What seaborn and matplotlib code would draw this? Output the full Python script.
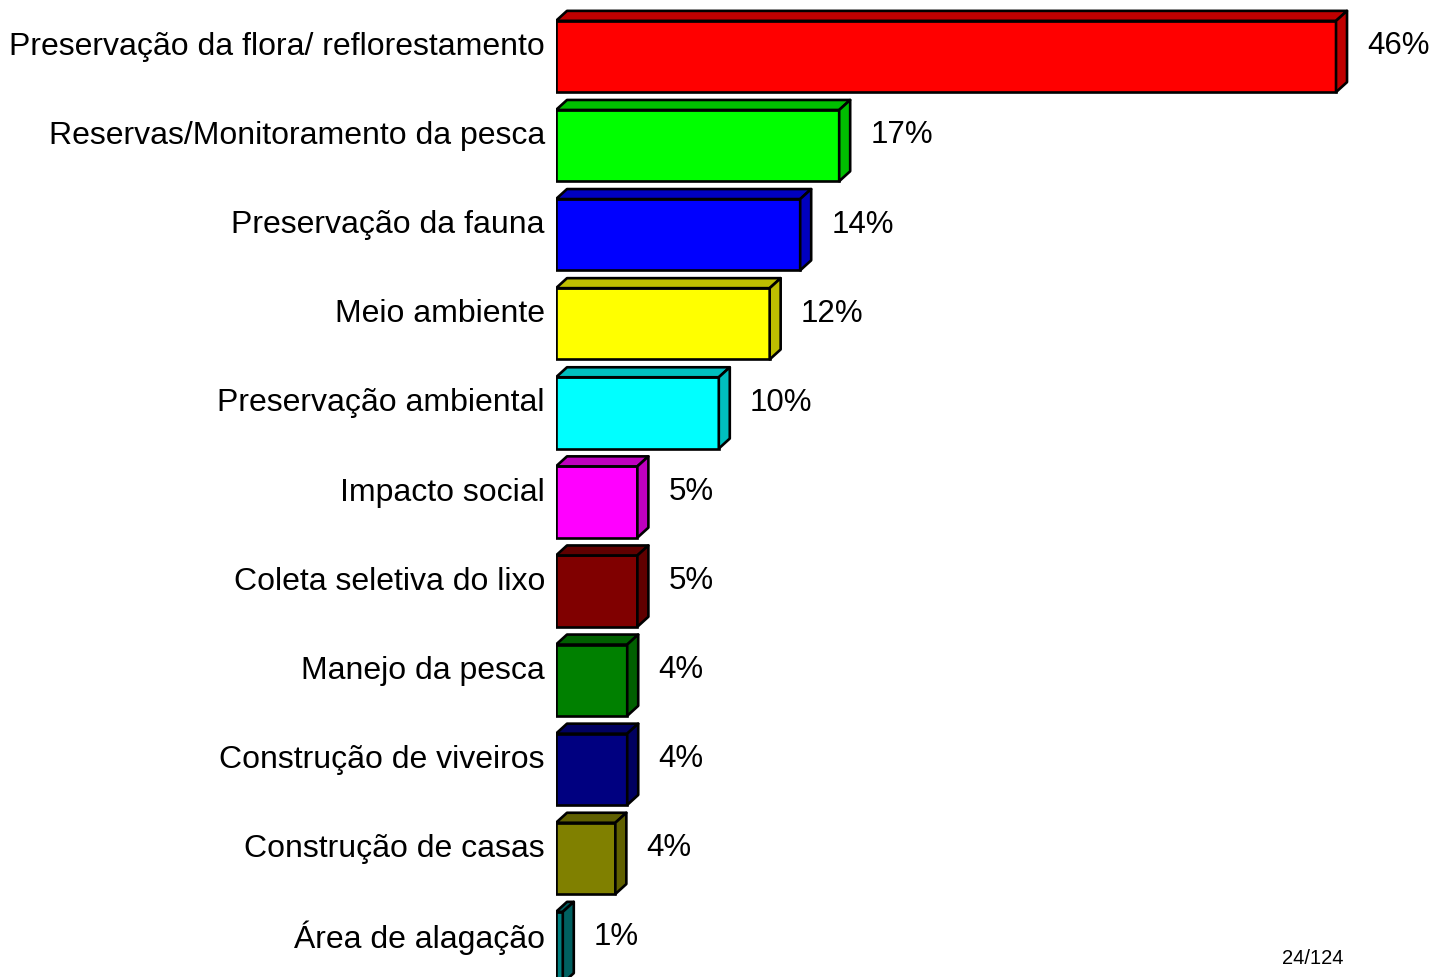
import numpy as np
import pandas as pd
import matplotlib
matplotlib.use("Agg")
import matplotlib.pyplot as plt
import seaborn as sns
from matplotlib.patches import Polygon
from matplotlib.colors import to_rgb

categories = [
    "Preservação da flora/ reflorestamento",
    "Reservas/Monitoramento da pesca",
    "Preservação da fauna",
    "Meio ambiente",
    "Preservação ambiental",
    "Impacto social",
    "Coleta seletiva do lixo",
    "Manejo da pesca",
    "Construção de viveiros",
    "Construção de casas",
    "Área de alagação",
]
values = [46.0, 16.7, 14.4, 12.6, 9.6, 4.8, 4.8, 4.2, 4.2, 3.5, 0.4]
value_labels = ["46%", "17%", "14%", "12%", "10%", "5%", "5%", "4%", "4%", "4%", "1%"]
colors = ["#FF0000", "#00FF00", "#0000FF", "#FFFF00", "#00FFFF", "#FF00FF",
          "#800000", "#008000", "#000080", "#808000", "#008080"]

sns.set_theme(style="white")
plt.rcParams["font.family"] = ["Liberation Sans", "DejaVu Sans"]

W, H, DPI = 1445, 977, 100
fig = plt.figure(figsize=(W / DPI, H / DPI), dpi=DPI)
left_px = 556
ax = fig.add_axes([left_px / W, 0, 1 - left_px / W, 1])

df = pd.DataFrame({"cat": categories, "val": values})
lw = 1.9
sns.barplot(data=df, x="val", y="cat", hue="cat", palette=colors, legend=False,
            orient="h", width=0.8, edgecolor="black", linewidth=lw, ax=ax,
            saturation=1)

px_per_unit = 16.957
pitch = 89.1
ax.set_xlim(0, (W - left_px) / px_per_unit)
ax.set_ylim((H - 56.5) / pitch, -56.5 / pitch)

dx = 11 / px_per_unit
dy = 10 / pitch

for p, c in zip(ax.patches, colors):
    x0 = p.get_x()
    x1 = x0 + p.get_width()
    yt = p.get_y()
    yb = yt + p.get_height()
    dark = tuple(v * 0.75 for v in to_rgb(c))
    top = Polygon([(x0, yt), (x0 + dx, yt - dy), (x1 + dx, yt - dy), (x1, yt)],
                  closed=True, facecolor=dark, edgecolor="black", linewidth=lw,
                  joinstyle="round")
    side = Polygon([(x1, yt), (x1 + dx, yt - dy), (x1 + dx, yb - dy), (x1, yb)],
                   closed=True, facecolor=dark, edgecolor="black", linewidth=lw,
                   joinstyle="round")
    ax.add_patch(top)
    ax.add_patch(side)

shift = 13 / pitch
n = len(categories)
ax.set_yticks(np.arange(n) - shift, labels=categories)
ax.tick_params(axis="y", length=0, pad=8, labelsize=23, labelcolor="black")
ax.set_xticks([])
ax.set_xlabel("")
ax.set_ylabel("")
for s in ax.spines.values():
    s.set_visible(False)

off = 31 / px_per_unit
for i, (v, lab) in enumerate(zip(values, value_labels)):
    ax.text(v + off, i - shift + 0.032, lab, va="center", ha="left", fontsize=22.5, color="black")

fig.text(1282 / W, 1 - 958 / H, "24/124", fontsize=14.5, va="center", ha="left", color="black")

fig.savefig("out.png", dpi=DPI)
